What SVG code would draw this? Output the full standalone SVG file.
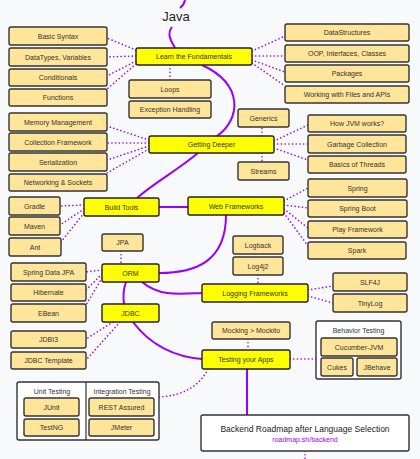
<svg xmlns="http://www.w3.org/2000/svg" width="420" height="459" viewBox="0 0 420 459">
<style>
.bg{fill:#f8f9fb}
.t rect{fill:#ffff00;stroke:#222;stroke-width:1.4}
.i rect{fill:#ffe599;stroke:#333;stroke-width:1.4}
.g>rect.box{fill:#ffffff;stroke:#333;stroke-width:1.4}
text{font-family:"Liberation Sans",Arial,sans-serif;font-size:7px;fill:#333;text-anchor:middle}
.s{fill:none;stroke:#9900ff;stroke-width:2}
.d{fill:none;stroke:#9900ff;stroke-width:1.6;stroke-dasharray:0.1 3.6;stroke-linecap:round}
</style>
<rect class="bg" x="0" y="0" width="420" height="459"/>
<g id="connectors">
<path class="s" d="M185,0 Q184,5 180,8"/>
<path class="s" d="M172,27 C166,35 172,42 175,48"/>
<path class="s" d="M202,65 C245,85 240,120 217,136"/>
<path class="s" d="M198,153 C175,172 155,182 137,198"/>
<path class="s" d="M159,207 L188,207"/>
<path class="s" d="M226,215 C226,262 195,273 159,273"/>
<path class="s" d="M142,282 C160,297 180,294 202,293"/>
<path class="s" d="M126,282 C123,290 123,297 124,304"/>
<path class="s" d="M133,322 C150,345 175,357 202,359"/>
<path class="s" d="M247,369 L247,415"/>
<path class="d" d="M136,50 L107,38"/>
<path class="d" d="M136,56 L107,57"/>
<path class="d" d="M136,61 L107,76"/>
<path class="d" d="M136,64 L107,89"/>
<path class="d" d="M170,65 L170,80"/>
<path class="d" d="M252,51 L285,36"/>
<path class="d" d="M252,56 L285,56"/>
<path class="d" d="M252,60 L285,72"/>
<path class="d" d="M252,63 L285,86"/>
<path class="d" d="M149,140 L107,126"/>
<path class="d" d="M149,143 L107,143"/>
<path class="d" d="M149,146 L107,160"/>
<path class="d" d="M149,149 L107,173"/>
<path class="d" d="M262,136 L262,127"/>
<path class="d" d="M262,153 L262,162"/>
<path class="d" d="M274,141 L308,125"/>
<path class="d" d="M274,144 L308,144"/>
<path class="d" d="M274,148 L308,160"/>
<path class="d" d="M84,205 L60,206"/>
<path class="d" d="M84,209 L60,225"/>
<path class="d" d="M84,213 L61,242"/>
<path class="d" d="M284,201 L308,188"/>
<path class="d" d="M284,205 L308,208"/>
<path class="d" d="M284,209 L308,228"/>
<path class="d" d="M284,213 L308,246"/>
<path class="d" d="M121,251 L121,264"/>
<path class="d" d="M102,270 L86,272"/>
<path class="d" d="M102,274 L86,290"/>
<path class="d" d="M102,278 L86,305"/>
<path class="d" d="M113,322 L86,339"/>
<path class="d" d="M120,322 L86,360"/>
<path class="d" d="M258,275 L258,284"/>
<path class="d" d="M308,290 L333,286"/>
<path class="d" d="M308,296 L333,303"/>
<path class="d" d="M248,339 L248,350"/>
<path class="d" d="M290,359 L316,359"/>
<path class="d" d="M208,369 Q195,395 159,397"/>
<path class="d" d="M305,451 L305,459"/>
</g>
<text x="176" y="21" style="font-size:13px;fill:#222">Java</text>
<g id="learn" class="t"><rect x="136" y="48" width="116" height="17" rx="2"/><text x="194" y="59">Learn the Fundamentals</text></g>
<g id="deeper" class="t"><rect x="149" y="136" width="125" height="17" rx="2"/><text x="211.5" y="147">Getting Deeper</text></g>
<g id="build" class="t"><rect x="84" y="198" width="75" height="18" rx="2"/><text x="121.5" y="209.5">Build Tools</text></g>
<g id="web" class="t"><rect x="188" y="197" width="96" height="18" rx="2"/><text x="236" y="208.5">Web Frameworks</text></g>
<g id="orm" class="t"><rect x="102" y="264" width="57" height="18" rx="2"/><text x="130.5" y="275.5">ORM</text></g>
<g id="jdbc" class="t"><rect x="102" y="304" width="57" height="18" rx="2"/><text x="130.5" y="315.5">JDBC</text></g>
<g id="logging" class="t"><rect x="202" y="284" width="106" height="18" rx="2"/><text x="255" y="295.5">Logging Frameworks</text></g>
<g id="testing" class="t"><rect x="202" y="350" width="88" height="19" rx="2"/><text x="246" y="362">Testing your Apps</text></g>
<g id="basic-syntax" class="i"><rect x="9" y="27" width="98" height="18" rx="2"/><text x="58" y="38.5">Basic Syntax</text></g>
<g id="datatypes" class="i"><rect x="9" y="48" width="98" height="18" rx="2"/><text x="58" y="59.5">DataTypes, Variables</text></g>
<g id="conditionals" class="i"><rect x="9" y="69" width="98" height="17" rx="2"/><text x="58" y="80">Conditionals</text></g>
<g id="functions" class="i"><rect x="9" y="89" width="98" height="17" rx="2"/><text x="58" y="100">Functions</text></g>
<g id="loops" class="i"><rect x="129" y="80" width="82" height="18" rx="2"/><text x="170" y="91.5">Loops</text></g>
<g id="exceptions" class="i"><rect x="129" y="101" width="82" height="17" rx="2"/><text x="170" y="112">Exception Handling</text></g>
<g id="datastructures" class="i"><rect x="285" y="24" width="124" height="17" rx="2"/><text x="347" y="35">DataStructures</text></g>
<g id="oop" class="i"><rect x="285" y="45" width="124" height="17" rx="2"/><text x="347" y="56">OOP, Interfaces, Classes</text></g>
<g id="packages" class="i"><rect x="285" y="65" width="124" height="17" rx="2"/><text x="347" y="76">Packages</text></g>
<g id="files-apis" class="i"><rect x="285" y="86" width="124" height="17" rx="2"/><text x="347" y="97">Working with Files and APIs</text></g>
<g id="generics" class="i"><rect x="238" y="109" width="51" height="18" rx="2"/><text x="263.5" y="120.5">Generics</text></g>
<g id="streams" class="i"><rect x="238" y="162" width="51" height="18" rx="2"/><text x="263.5" y="173.5">Streams</text></g>
<g id="memory" class="i"><rect x="9" y="113" width="98" height="18" rx="2"/><text x="58" y="124.5">Memory Management</text></g>
<g id="collections" class="i"><rect x="9" y="133" width="98" height="18" rx="2"/><text x="58" y="144.5">Collection Framework</text></g>
<g id="serialization" class="i"><rect x="9" y="153" width="98" height="18" rx="2"/><text x="58" y="164.5">Serialization</text></g>
<g id="networking" class="i"><rect x="9" y="174" width="98" height="17" rx="2"/><text x="58" y="185">Networking &amp; Sockets</text></g>
<g id="jvm" class="i"><rect x="308" y="115" width="98" height="17" rx="2"/><text x="357" y="126">How JVM works?</text></g>
<g id="gc" class="i"><rect x="308" y="135" width="98" height="18" rx="2"/><text x="357" y="146.5">Garbage Collection</text></g>
<g id="threads" class="i"><rect x="308" y="156" width="98" height="17" rx="2"/><text x="357" y="167">Basics of Threads</text></g>
<g id="spring" class="i"><rect x="308" y="179" width="99" height="18" rx="2"/><text x="357.5" y="190.5">Spring</text></g>
<g id="spring-boot" class="i"><rect x="308" y="200" width="99" height="17" rx="2"/><text x="357.5" y="211">Spring Boot</text></g>
<g id="play" class="i"><rect x="308" y="221" width="99" height="17" rx="2"/><text x="357.5" y="232">Play Framework</text></g>
<g id="spark" class="i"><rect x="308" y="242" width="98" height="17" rx="2"/><text x="357" y="253">Spark</text></g>
<g id="gradle" class="i"><rect x="9" y="197" width="51" height="18" rx="2"/><text x="34.5" y="208.5">Gradle</text></g>
<g id="maven" class="i"><rect x="9" y="217" width="51" height="18" rx="2"/><text x="34.5" y="228.5">Maven</text></g>
<g id="ant" class="i"><rect x="9" y="238" width="52" height="18" rx="2"/><text x="35" y="249.5">Ant</text></g>
<g id="jpa" class="i"><rect x="102" y="234" width="41" height="17" rx="2"/><text x="122.5" y="245">JPA</text></g>
<g id="spring-data-jpa" class="i"><rect x="11" y="263" width="75" height="18" rx="2"/><text x="48.5" y="274.5">Spring Data JPA</text></g>
<g id="hibernate" class="i"><rect x="11" y="284" width="75" height="17" rx="2"/><text x="48.5" y="295">Hibernate</text></g>
<g id="ebean" class="i"><rect x="11" y="304" width="75" height="18" rx="2"/><text x="48.5" y="315.5">EBean</text></g>
<g id="jdbi3" class="i"><rect x="11" y="331" width="75" height="17" rx="2"/><text x="48.5" y="342">JDBI3</text></g>
<g id="jdbc-template" class="i"><rect x="11" y="352" width="75" height="17" rx="2"/><text x="48.5" y="363">JDBC Template</text></g>
<g id="logback" class="i"><rect x="233" y="236" width="50" height="18" rx="2"/><text x="258" y="247.5">Logback</text></g>
<g id="log4j2" class="i"><rect x="233" y="257" width="50" height="18" rx="2"/><text x="258" y="268.5">Log4j2</text></g>
<g id="slf4j" class="i"><rect x="333" y="273" width="74" height="18" rx="2"/><text x="370" y="284.5">SLF4J</text></g>
<g id="tinylog" class="i"><rect x="333" y="294" width="74" height="18" rx="2"/><text x="370" y="305.5">TinyLog</text></g>
<g id="mockito" class="i"><rect x="212" y="322" width="78" height="17" rx="2"/><text x="251" y="333">Mocking &gt; Mockito</text></g>
<g id="behavior-testing" class="g">
<rect class="box" x="316" y="321" width="85" height="58" rx="2"/>
<text x="358.5" y="332.5">Behavior Testing</text>
<g id="cucumber" class="i"><rect x="321" y="338" width="76" height="18" rx="2"/><text x="359" y="349.5">Cucumber-JVM</text></g>
<g id="cukes" class="i"><rect x="321" y="358" width="32" height="18" rx="2"/><text x="337" y="369.5">Cukes</text></g>
<g id="jbehave" class="i"><rect x="357" y="358" width="40" height="18" rx="2"/><text x="377" y="369.5">JBehave</text></g>
</g>
<g id="unit-integration-testing" class="g">
<rect class="box" x="17" y="382" width="142" height="58" rx="2"/>
<line x1="86" y1="382" x2="86" y2="440" stroke="#333" stroke-width="1.2"/>
<text x="52" y="394">Unit Testing</text>
<text x="122" y="394">Integration Testing</text>
<g id="junit" class="i"><rect x="24" y="398" width="55" height="18" rx="2"/><text x="51.5" y="409.5">JUnit</text></g>
<g id="testng" class="i"><rect x="24" y="419" width="55" height="17" rx="2"/><text x="51.5" y="430">TestNG</text></g>
<g id="rest-assured" class="i"><rect x="89" y="398" width="65" height="18" rx="2"/><text x="121.5" y="409.5">REST Assured</text></g>
<g id="jmeter" class="i"><rect x="89" y="419" width="65" height="17" rx="2"/><text x="121.5" y="430">JMeter</text></g>
</g>
<g id="backend" class="g">
<rect class="box" x="201" y="415" width="208" height="36" rx="2"/>
<text x="305" y="432" style="font-size:8.5px;fill:#222">Backend Roadmap after Language Selection</text>
<text x="305" y="442" style="fill:#9900ff">roadmap.sh/backend</text>
</g>
</svg>
